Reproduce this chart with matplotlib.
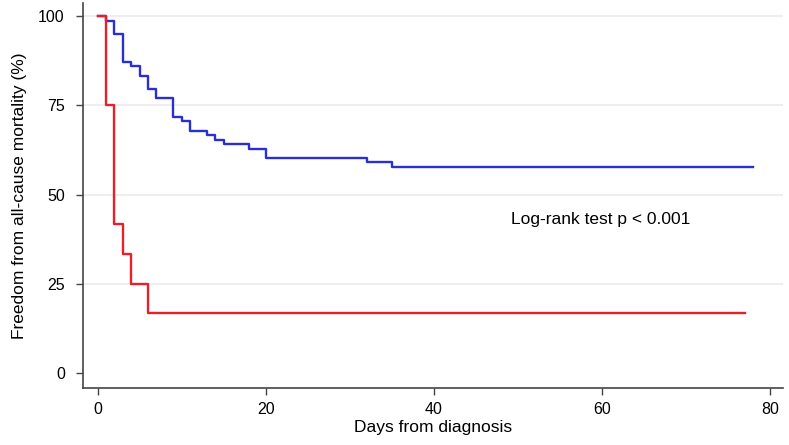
import matplotlib
matplotlib.use("Agg")
import matplotlib.pyplot as plt

plt.rcParams["font.family"] = ["Liberation Sans", "DejaVu Sans"]

# Kaplan-Meier step data (days, survival %)
blue_days = [0, 1, 2, 3, 4, 5, 6, 7, 9, 10, 11, 13, 14, 15, 18, 20, 32, 35, 78]
blue_surv = [100, 98.7, 95.0, 87.2, 86.0, 83.3, 79.5, 76.9, 71.8, 70.5, 67.9,
             66.7, 65.4, 64.1, 62.8, 60.3, 59.0, 57.7, 57.7]

red_days = [0, 1, 2, 3, 4, 6, 77]
red_surv = [100, 75.0, 41.7, 33.3, 25.0, 16.7, 16.7]

x_ticks = [0, 20, 40, 60, 80]
y_ticks = [0, 25, 50, 75, 100]

fig = plt.figure(figsize=(7.89, 4.45), dpi=100)
ax = fig.add_axes([0.105, 0.128, 0.887, 0.865])

for y in y_ticks[1:]:
    ax.axhline(y, color="#ebebeb", lw=1.2, zorder=0)

ax.step(blue_days, blue_surv, where="post", color="#2b2fd2", lw=1.7)
ax.step(red_days, red_surv, where="post", color="#e8202a", lw=1.7)

ax.text(59.8, 43, "Log-rank test p < 0.001", ha="center", va="center", fontsize=12.5)

ax.set_xlim(-1.75, 81.5)
ax.set_ylim(-4.2, 103.6)
ax.set_xticks(x_ticks)
ax.set_yticks(y_ticks)
ax.set_xlabel("Days from diagnosis", fontsize=12.5, labelpad=2)
ax.set_ylabel("Freedom from all-cause mortality (%)", fontsize=12.5, labelpad=8)
ax.tick_params(labelsize=11.5, color="#444444", length=5, width=1)
ax.tick_params(axis="x", pad=5)
ax.tick_params(axis="y", pad=8)

for side in ["top", "right"]:
    ax.spines[side].set_visible(False)
for side in ["left", "bottom"]:
    ax.spines[side].set_color("#444444")
    ax.spines[side].set_linewidth(1.2)

fig.savefig("out.png", dpi=100)
